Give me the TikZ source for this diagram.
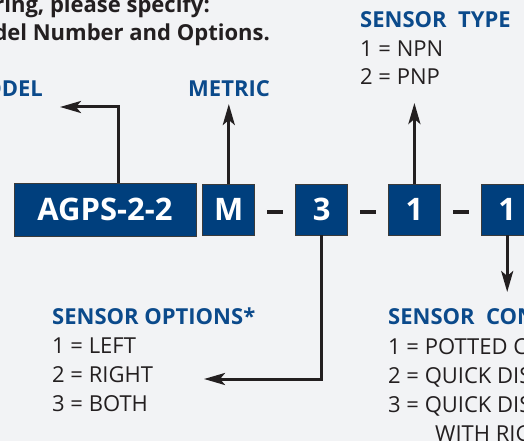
\documentclass[tikz,border=0pt]{standalone}
\usepackage{fontspec}
\setmainfont{Open Sans}
\usetikzlibrary{arrows.meta,positioning,calc}
\definecolor{paper}{HTML}{F2F3F5}
\definecolor{navy}{HTML}{003F7D}
\definecolor{headblue}{HTML}{0B4A8B}
\definecolor{ink}{HTML}{231F20}
\definecolor{edge}{HTML}{3A3A3A}
\begin{document}
\begin{tikzpicture}[x=1pt,y=-1pt,
  code/.style={draw=edge,line width=0.8pt,fill=navy,text=white,font=\fontsize{31}{31}\selectfont\bfseries,minimum height=51pt,minimum width=52pt,inner sep=0pt},
  sepmark/.style={fill=ink,minimum width=16pt,minimum height=4pt,inner sep=0pt},
  title/.style={anchor=base east,inner sep=0pt,text=ink,font=\fontsize{22}{22}\selectfont\bfseries},
  head/.style={anchor=base west,inner sep=0pt,text=headblue,font=\fontsize{22}{22}\selectfont\bfseries},
  opt/.style={anchor=base west,inner sep=0pt,text=ink,font=\fontsize{22}{22}\selectfont},
  arr/.style={-{Stealth[length=21pt,width=12pt,inset=5pt]},color=ink,line width=3pt}]
  \fill[paper] (0,0) rectangle (524,441);
  \useasboundingbox (0,0) rectangle (524,441);
  \clip (0,0) rectangle (524,441);
  % heading
  \node[title] (ask) at (210,13) {When ordering, please specify:};
  \node[title] (ask2) at (270,41) {Model Number and Options.};
  % code boxes
  \node[code,minimum width=182pt,minimum height=53pt] (model) at (105,209.5) {AGPS-2-2};
  \node[code,right=6pt of model] (metric) {M};
  \node[code,right=40pt of metric] (opts) {3};
  \node[code,right=40pt of opts] (type) {1};
  \node[code,right=40pt of type] (conn) {1};
  \node[sepmark] (sepA) at ($(metric.east)!0.5!(opts.west)+(0,2.5)$) {};
  \node[sepmark] (sepB) at ($(opts.east)!0.5!(type.west)+(0,2.5)$) {};
  \node[sepmark] (sepC) at ($(type.east)!0.5!(conn.west)+(0,2.5)$) {};
  % labels
  \node[head,anchor=base east] (modelhd) at (43,97) {MODEL};
  \node[head] (metrichd) at (188,97) {METRIC};
  \node[head] (typehd) at (360,28) {SENSOR\ \ TYPE};
  \node[opt] (npn) at (360,57) {1 = NPN};
  \node[opt] (pnp) at (360,85) {2 = PNP};
  \node[head] (optshd) at (52,324) {SENSOR OPTIONS*};
  \node[opt] (left) at (52,353) {1 = LEFT};
  \node[opt] (right) at (52,382) {2 = RIGHT};
  \node[opt] (both) at (52,411) {3 = BOTH};
  \node[head] (connhd) at (388,324) {SENSOR\ \ CONNECTION};
  \node[opt] (potted) at (388,354) {1 = POTTED CABLE};
  \node[opt] (quick) at (388,383) {2 = QUICK DISCONNECT};
  \node[opt] (quickra) at (388,412) {3 = QUICK DISCONNECT};
  \node[opt] (withra) at (435,441) {WITH RIGHT ANGLE};
  % connectors
  \coordinate (modelup) at (118,107);
  \coordinate (modeltip) at (60,107);
  \coordinate (metrictip) at (228,104);
  \coordinate (typetip) at (413,103);
  \coordinate (optstip) at (204,379);
  \coordinate (conntip) at (505,292);
  \draw[arr] (modelup |- model.north) -- (modelup) -- (modeltip);
  \draw[arr] (metric.north) -- (metric.north |- metrictip);
  \draw[arr] (type.north) -- (type.north |- typetip);
  \draw[arr] (opts.south) |- (optstip);
  \draw[arr] (conn.south) -- (conn.south |- conntip);
\end{tikzpicture}
\end{document}
